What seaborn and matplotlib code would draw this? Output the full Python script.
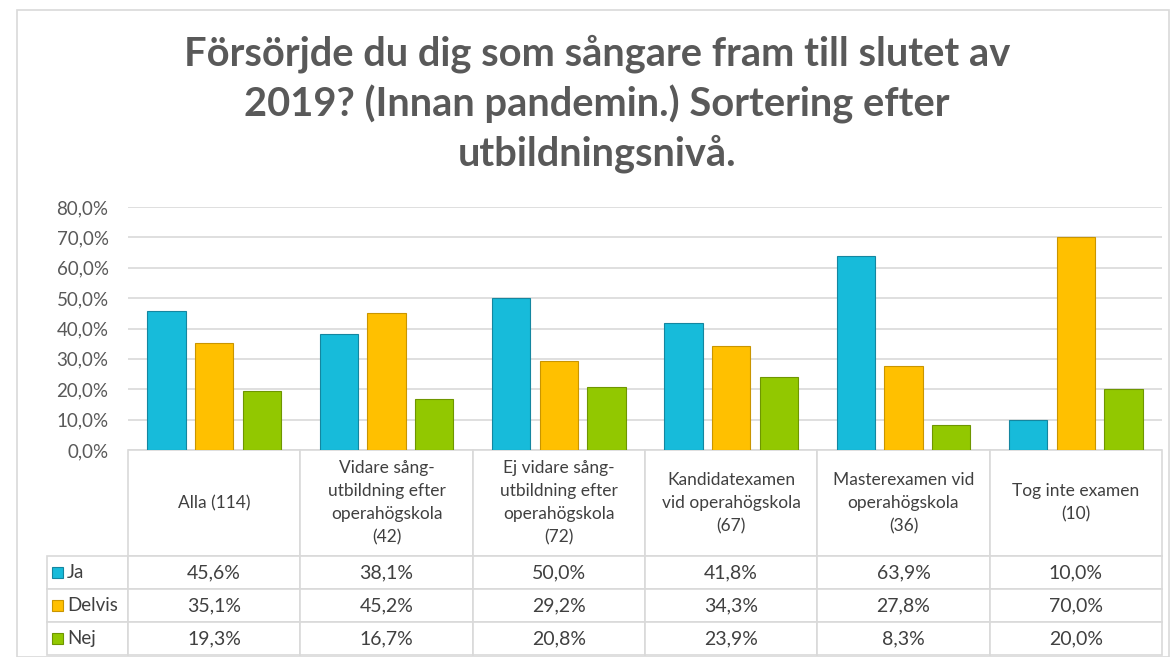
import numpy as np
import pandas as pd
import matplotlib
matplotlib.use('Agg')
import matplotlib.pyplot as plt
import seaborn as sns
from matplotlib.patches import Rectangle

# data
categories = ['Alla (114)',
              'Vidare sång-\nutbildning efter\noperahögskola\n(42)',
              'Ej vidare sång-\nutbildning efter\noperahögskola\n(72)',
              'Kandidatexamen\nvid operahögskola\n(67)',
              'Masterexamen vid\noperahögskola\n(36)',
              'Tog inte examen\n(10)']
answers = ['Ja', 'Delvis', 'Nej']
ja = [45.6, 38.1, 50.0, 41.8, 63.9, 10.0]
delvis = [35.1, 45.2, 29.2, 34.3, 27.8, 70.0]
nej = [19.3, 16.7, 20.8, 23.9, 8.3, 20.0]
yticks = [0, 10, 20, 30, 40, 50, 60, 70, 80]

colors = ['#17BBDA', '#FFC000', '#92C800']
edges = ['#1486A0', '#C99500', '#6E9600']
title = 'Försörjde du dig som sångare fram till slutet av\n2019? (Innan pandemin.) Sortering efter\nutbildningsnivå.'

sns.set_style('white')
plt.rcParams['font.family'] = ['Lato', 'DejaVu Sans']

df = pd.DataFrame({'cat': categories * 3,
                   'svar': np.repeat(answers, len(categories)),
                   'value': ja + delvis + nej})

W, H = 1171, 657
fig = plt.figure(figsize=(W / 100, H / 100), dpi=100)

# plot area in pixels
left, right, top, bottom = 128, 1162, 207, 450
ax = fig.add_axes([left / W, 1 - bottom / H, (right - left) / W, (bottom - top) / H])

sns.barplot(data=df, x='cat', y='value', hue='svar', palette=colors, saturation=1,
            width=0.83, gap=0.2, ax=ax, legend=False, zorder=3)
for i, cont in enumerate(ax.containers):
    for bar in cont:
        bar.set_edgecolor(edges[i])
        bar.set_linewidth(0.8)

ax.set_xlim(-0.5, len(categories) - 0.5)
ax.set_ylim(0, 80)
ax.set_yticks(yticks)
ax.set_yticklabels([f'{v},0%' for v in yticks], color='#595959', fontsize=13.5)
ax.tick_params(axis='y', length=0, pad=14)
ax.set_xticks([])
ax.set_xlabel('')
ax.set_ylabel('')
ax.grid(axis='y', color='#D9D9D9', linewidth=1.2, zorder=0)
ax.set_axisbelow(True)
for s in ax.spines.values():
    s.set_visible(False)

# data table under the bars (first column holds the series names)
ax_w = right - left
ax_h = bottom - top
tab_left = 47
head_h = 106
row_h = 33
tab_h = head_h + 3 * row_h
cell_text = [[name] + [f'{v:.1f}%'.replace('.', ',') for v in vals]
             for name, vals in zip(answers, (ja, delvis, nej))]
tbl = ax.table(cellText=cell_text, colLabels=[''] + categories, cellLoc='center',
               bbox=[(tab_left - left) / ax_w, -tab_h / ax_h, (right - tab_left) / ax_w, tab_h / ax_h])
tbl.auto_set_font_size(False)
for (r, c), cell in tbl.get_celld().items():
    cell.set_edgecolor('#D9D9D9')
    cell.set_linewidth(1.2)
    cell.set_height(head_h if r == 0 else row_h)
    cell.set_width(left - tab_left if c == 0 else ax_w / len(categories))
    txt = cell.get_text()
    txt.set_color('#404040')
    txt.set_fontsize(12.5 if r == 0 else 14)
    if r == 0:
        txt.set_linespacing(1.55)
    if c == 0:
        cell._loc = 'left'
        cell.PAD = 0.25
        txt.set_horizontalalignment('left')
        txt.set_fontsize(13.5)
        if r == 0:
            cell.visible_edges = ''

# colour keys in the row labels
for i, col in enumerate(colors):
    yc = -(head_h + row_h * (i + 0.5)) / ax_h
    sq = 11
    ax.add_patch(Rectangle(((52 - left) / ax_w, yc - sq / 2 / ax_h), sq / ax_w, sq / ax_h,
                           transform=ax.transAxes, facecolor=col, edgecolor=edges[i],
                           linewidth=0.8, clip_on=False, zorder=5))

fig.text(597 / W, 1 - 104 / H, title, ha='center', va='center', fontsize=28.7,
         fontweight='bold', color='#595959', linespacing=1.35)

# outer chart frame
fig.add_artist(Rectangle((17 / W, 0), 1 - 17 / W - 2 / W, 1 - 10 / H, transform=fig.transFigure,
                         fill=False, edgecolor='#D9D9D9', linewidth=1.2))

fig.savefig('out.png', dpi=100)
